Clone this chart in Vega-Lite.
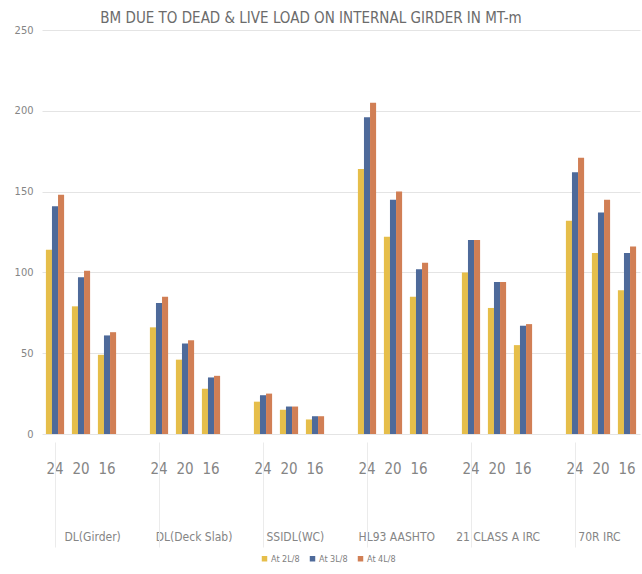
{
  "$schema": "https://vega.github.io/schema/vega-lite/v6.json",
  "autosize": "none",
  "padding": {"left": 42, "top": 30, "right": 2, "bottom": 140},
  "width": 598,
  "height": 404,
  "background": "white",
  "title": {
    "text": "BM DUE TO DEAD & LIVE LOAD ON INTERNAL GIRDER IN MT-m",
    "font": "DejaVu Sans Condensed, Roboto, sans-serif",
    "fontSize": 15,
    "fontWeight": "normal",
    "color": "#6b6b6b",
    "anchor": "middle",
    "frame": "group",
    "dx": -30,
    "dy": 4,
    "offset": 2
  },
  "config": {
    "view": {"stroke": null},
    "font": "DejaVu Sans Condensed, Roboto, sans-serif",
    "axis": {"labelColor": "#858585", "labelFont": "DejaVu Sans Condensed, Roboto, sans-serif"},
    "legend": {"labelColor": "#808080", "labelFont": "DejaVu Sans Condensed, Roboto, sans-serif"}
  },
  "data": {
    "values": [
      {"load": "DL(Girder)", "span": "24", "slot": "DL(Girder) 24", "position": "At 2L/8", "bm": 114},
      {"load": "DL(Girder)", "span": "24", "slot": "DL(Girder) 24", "position": "At 3L/8", "bm": 141},
      {"load": "DL(Girder)", "span": "24", "slot": "DL(Girder) 24", "position": "At 4L/8", "bm": 148},
      {"load": "DL(Girder)", "span": "20", "slot": "DL(Girder) 20", "position": "At 2L/8", "bm": 79},
      {"load": "DL(Girder)", "span": "20", "slot": "DL(Girder) 20", "position": "At 3L/8", "bm": 97},
      {"load": "DL(Girder)", "span": "20", "slot": "DL(Girder) 20", "position": "At 4L/8", "bm": 101},
      {"load": "DL(Girder)", "span": "16", "slot": "DL(Girder) 16", "position": "At 2L/8", "bm": 49},
      {"load": "DL(Girder)", "span": "16", "slot": "DL(Girder) 16", "position": "At 3L/8", "bm": 61},
      {"load": "DL(Girder)", "span": "16", "slot": "DL(Girder) 16", "position": "At 4L/8", "bm": 63},
      {"load": "DL(Deck Slab)", "span": "24", "slot": "DL(Deck Slab) 24", "position": "At 2L/8", "bm": 66},
      {"load": "DL(Deck Slab)", "span": "24", "slot": "DL(Deck Slab) 24", "position": "At 3L/8", "bm": 81},
      {"load": "DL(Deck Slab)", "span": "24", "slot": "DL(Deck Slab) 24", "position": "At 4L/8", "bm": 85},
      {"load": "DL(Deck Slab)", "span": "20", "slot": "DL(Deck Slab) 20", "position": "At 2L/8", "bm": 46},
      {"load": "DL(Deck Slab)", "span": "20", "slot": "DL(Deck Slab) 20", "position": "At 3L/8", "bm": 56},
      {"load": "DL(Deck Slab)", "span": "20", "slot": "DL(Deck Slab) 20", "position": "At 4L/8", "bm": 58},
      {"load": "DL(Deck Slab)", "span": "16", "slot": "DL(Deck Slab) 16", "position": "At 2L/8", "bm": 28},
      {"load": "DL(Deck Slab)", "span": "16", "slot": "DL(Deck Slab) 16", "position": "At 3L/8", "bm": 35},
      {"load": "DL(Deck Slab)", "span": "16", "slot": "DL(Deck Slab) 16", "position": "At 4L/8", "bm": 36},
      {"load": "SSIDL(WC)", "span": "24", "slot": "SSIDL(WC) 24", "position": "At 2L/8", "bm": 20},
      {"load": "SSIDL(WC)", "span": "24", "slot": "SSIDL(WC) 24", "position": "At 3L/8", "bm": 24},
      {"load": "SSIDL(WC)", "span": "24", "slot": "SSIDL(WC) 24", "position": "At 4L/8", "bm": 25},
      {"load": "SSIDL(WC)", "span": "20", "slot": "SSIDL(WC) 20", "position": "At 2L/8", "bm": 15},
      {"load": "SSIDL(WC)", "span": "20", "slot": "SSIDL(WC) 20", "position": "At 3L/8", "bm": 17},
      {"load": "SSIDL(WC)", "span": "20", "slot": "SSIDL(WC) 20", "position": "At 4L/8", "bm": 17},
      {"load": "SSIDL(WC)", "span": "16", "slot": "SSIDL(WC) 16", "position": "At 2L/8", "bm": 9},
      {"load": "SSIDL(WC)", "span": "16", "slot": "SSIDL(WC) 16", "position": "At 3L/8", "bm": 11},
      {"load": "SSIDL(WC)", "span": "16", "slot": "SSIDL(WC) 16", "position": "At 4L/8", "bm": 11},
      {"load": "HL93 AASHTO", "span": "24", "slot": "HL93 AASHTO 24", "position": "At 2L/8", "bm": 164},
      {"load": "HL93 AASHTO", "span": "24", "slot": "HL93 AASHTO 24", "position": "At 3L/8", "bm": 196},
      {"load": "HL93 AASHTO", "span": "24", "slot": "HL93 AASHTO 24", "position": "At 4L/8", "bm": 205},
      {"load": "HL93 AASHTO", "span": "20", "slot": "HL93 AASHTO 20", "position": "At 2L/8", "bm": 122},
      {"load": "HL93 AASHTO", "span": "20", "slot": "HL93 AASHTO 20", "position": "At 3L/8", "bm": 145},
      {"load": "HL93 AASHTO", "span": "20", "slot": "HL93 AASHTO 20", "position": "At 4L/8", "bm": 150},
      {"load": "HL93 AASHTO", "span": "16", "slot": "HL93 AASHTO 16", "position": "At 2L/8", "bm": 85},
      {"load": "HL93 AASHTO", "span": "16", "slot": "HL93 AASHTO 16", "position": "At 3L/8", "bm": 102},
      {"load": "HL93 AASHTO", "span": "16", "slot": "HL93 AASHTO 16", "position": "At 4L/8", "bm": 106},
      {"load": "21 CLASS A IRC", "span": "24", "slot": "21 CLASS A IRC 24", "position": "At 2L/8", "bm": 100},
      {"load": "21 CLASS A IRC", "span": "24", "slot": "21 CLASS A IRC 24", "position": "At 3L/8", "bm": 120},
      {"load": "21 CLASS A IRC", "span": "24", "slot": "21 CLASS A IRC 24", "position": "At 4L/8", "bm": 120},
      {"load": "21 CLASS A IRC", "span": "20", "slot": "21 CLASS A IRC 20", "position": "At 2L/8", "bm": 78},
      {"load": "21 CLASS A IRC", "span": "20", "slot": "21 CLASS A IRC 20", "position": "At 3L/8", "bm": 94},
      {"load": "21 CLASS A IRC", "span": "20", "slot": "21 CLASS A IRC 20", "position": "At 4L/8", "bm": 94},
      {"load": "21 CLASS A IRC", "span": "16", "slot": "21 CLASS A IRC 16", "position": "At 2L/8", "bm": 55},
      {"load": "21 CLASS A IRC", "span": "16", "slot": "21 CLASS A IRC 16", "position": "At 3L/8", "bm": 67},
      {"load": "21 CLASS A IRC", "span": "16", "slot": "21 CLASS A IRC 16", "position": "At 4L/8", "bm": 68},
      {"load": "70R IRC", "span": "24", "slot": "70R IRC 24", "position": "At 2L/8", "bm": 132},
      {"load": "70R IRC", "span": "24", "slot": "70R IRC 24", "position": "At 3L/8", "bm": 162},
      {"load": "70R IRC", "span": "24", "slot": "70R IRC 24", "position": "At 4L/8", "bm": 171},
      {"load": "70R IRC", "span": "20", "slot": "70R IRC 20", "position": "At 2L/8", "bm": 112},
      {"load": "70R IRC", "span": "20", "slot": "70R IRC 20", "position": "At 3L/8", "bm": 137},
      {"load": "70R IRC", "span": "20", "slot": "70R IRC 20", "position": "At 4L/8", "bm": 145},
      {"load": "70R IRC", "span": "16", "slot": "70R IRC 16", "position": "At 2L/8", "bm": 89},
      {"load": "70R IRC", "span": "16", "slot": "70R IRC 16", "position": "At 3L/8", "bm": 112},
      {"load": "70R IRC", "span": "16", "slot": "70R IRC 16", "position": "At 4L/8", "bm": 116}
    ]
  },
  "resolve": {"scale": {"x": "independent"}, "axis": {"x": "independent"}},
  "layer": [
    {
      "mark": {"type": "bar"},
      "encoding": {
        "x": {
          "field": "slot",
          "type": "nominal",
          "title": null,
          "scale": {
            "domain": ["DL(Girder) 24", "DL(Girder) 20", "DL(Girder) 16", "gap1",
                       "DL(Deck Slab) 24", "DL(Deck Slab) 20", "DL(Deck Slab) 16", "gap2",
                       "SSIDL(WC) 24", "SSIDL(WC) 20", "SSIDL(WC) 16", "gap3",
                       "HL93 AASHTO 24", "HL93 AASHTO 20", "HL93 AASHTO 16", "gap4",
                       "21 CLASS A IRC 24", "21 CLASS A IRC 20", "21 CLASS A IRC 16", "gap5",
                       "70R IRC 24", "70R IRC 20", "70R IRC 16"],
            "paddingInner": 0.3,
            "paddingOuter": 0.15
          },
          "axis": {
            "orient": "bottom",
            "labelAngle": 0,
            "ticks": false,
            "domain": false,
            "labelPadding": 27,
            "labelFontSize": 15,
            "labelExpr": "indexof(datum.value, 'gap') == 0 ? '' : slice(datum.value, -2)"
          }
        },
        "xOffset": {
          "field": "position",
          "type": "nominal",
          "sort": ["At 2L/8", "At 3L/8", "At 4L/8"],
          "scale": {"paddingInner": 0, "paddingOuter": 0}
        },
        "y": {
          "field": "bm",
          "type": "quantitative",
          "title": null,
          "scale": {"domain": [0, 250], "nice": false},
          "axis": {
            "values": [0, 50, 100, 150, 200, 250],
            "grid": true,
            "gridColor": "#e4e4e4",
            "domain": false,
            "ticks": false,
            "labelPadding": 9,
            "labelFontSize": 11
          }
        },
        "color": {
          "field": "position",
          "type": "nominal",
          "sort": ["At 2L/8", "At 3L/8", "At 4L/8"],
          "scale": {"domain": ["At 2L/8", "At 3L/8", "At 4L/8"], "range": ["#E6BE4A", "#4E6A9A", "#D17F55"]},
          "legend": {
            "title": null,
            "orient": "none",
            "direction": "horizontal",
            "legendX": 218,
            "legendY": 524,
            "symbolType": "square",
            "symbolSize": 30,
            "symbolStrokeWidth": 0,
            "labelFontSize": 9,
            "labelOffset": 2,
            "columnPadding": 8
          }
        }
      }
    },
    {
      "mark": {"type": "point", "opacity": 0},
      "encoding": {
        "x": {
          "field": "load",
          "type": "nominal",
          "title": null,
          "scale": {
            "type": "point",
            "domain": ["DL(Girder)", "DL(Deck Slab)", "SSIDL(WC)", "HL93 AASHTO", "21 CLASS A IRC", "70R IRC"],
            "padding": 0.45,
            "align": 0.55
          },
          "axis": {
            "orient": "bottom",
            "labelAngle": 0,
            "ticks": false,
            "domain": false,
            "grid": false,
            "labelPadding": 97,
            "labelFontSize": 12
          }
        },
        "y": {"field": "bm", "type": "quantitative"}
      }
    },
    {
      "mark": {"type": "point", "opacity": 0},
      "encoding": {
        "x": {
          "field": "slot",
          "type": "nominal",
          "title": null,
          "scale": {
            "domain": ["DL(Girder) 24", "DL(Girder) 20", "DL(Girder) 16", "gap1",
                       "DL(Deck Slab) 24", "DL(Deck Slab) 20", "DL(Deck Slab) 16", "gap2",
                       "SSIDL(WC) 24", "SSIDL(WC) 20", "SSIDL(WC) 16", "gap3",
                       "HL93 AASHTO 24", "HL93 AASHTO 20", "HL93 AASHTO 16", "gap4",
                       "21 CLASS A IRC 24", "21 CLASS A IRC 20", "21 CLASS A IRC 16", "gap5",
                       "70R IRC 24", "70R IRC 20", "70R IRC 16"],
            "paddingInner": 0.3,
            "paddingOuter": 0.15
          },
          "axis": {
            "orient": "bottom",
            "values": ["DL(Girder) 24", "DL(Deck Slab) 24", "SSIDL(WC) 24", "HL93 AASHTO 24", "21 CLASS A IRC 24", "70R IRC 24"],
            "bandPosition": 0,
            "labels": false,
            "domain": false,
            "grid": false,
            "ticks": true,
            "tickSize": 105,
            "tickColor": "#ebebeb",
            "offset": 8
          }
        },
        "y": {"field": "bm", "type": "quantitative"}
      }
    }
  ]
}
